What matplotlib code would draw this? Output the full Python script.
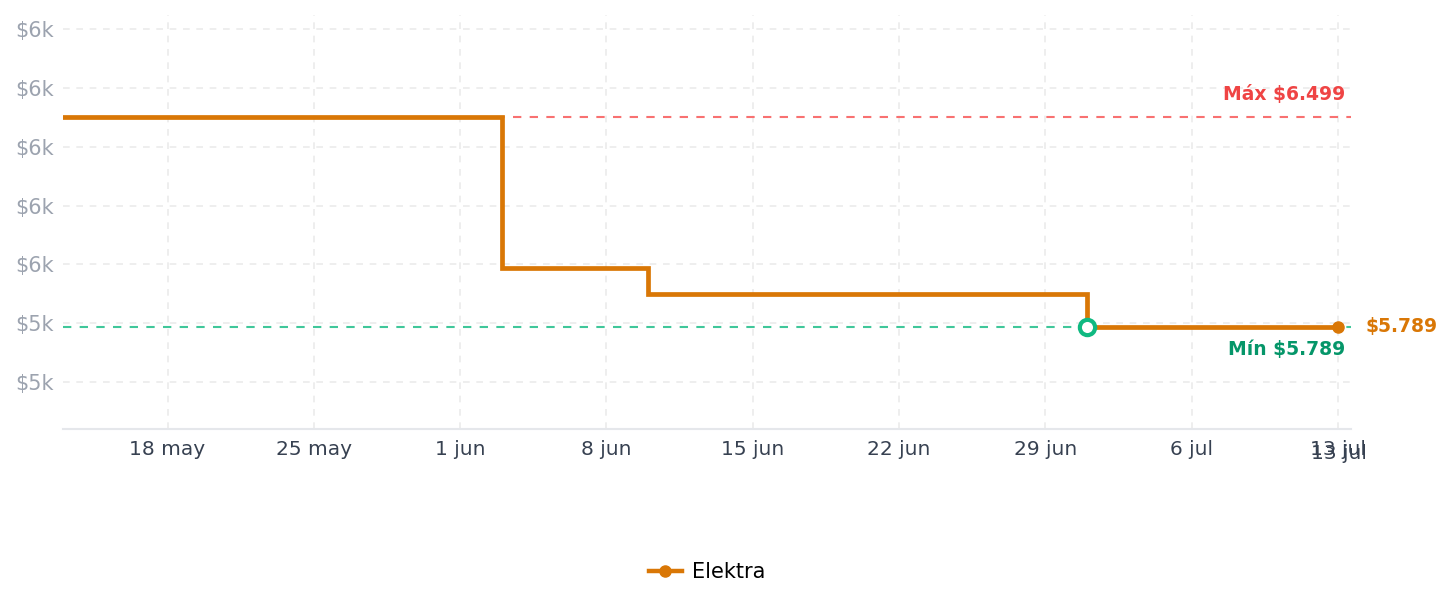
import numpy as np
import matplotlib.pyplot as plt
import matplotlib.dates as mdates
from matplotlib.ticker import FuncFormatter, FixedLocator
from matplotlib.lines import Line2D
from datetime import datetime, timedelta

# price history (step changes)
dates = [datetime(2025, 5, 13), datetime(2025, 6, 3), datetime(2025, 6, 10),
         datetime(2025, 7, 1), datetime(2025, 7, 13)]
prices = [6499, 5989, 5899, 5789, 5789]
store = 'Elektra'
max_price = 6499
min_price = 5789
min_date = datetime(2025, 7, 1)
y_ticks = [5600, 5800, 6000, 6200, 6400, 6600, 6800]
x_ticks = [datetime(2025, 5, 18) + timedelta(days=7 * i) for i in range(9)]
x_labels = ['18 may', '25 may', '1 jun', '8 jun', '15 jun', '22 jun', '29 jun', '6 jul', '13 jul']

orange = '#d97706'
green = '#10b981'

fig = plt.figure(figsize=(14.52, 6.07), dpi=100)
ax = fig.add_axes([63 / 1452, 1 - 429 / 607, (1351 - 63) / 1452, (429 - 15) / 607])

ax.axhline(max_price, color='#f87171', linestyle=(0, (4, 4)), linewidth=1.5, zorder=2)
ax.axhline(min_price, color=green, alpha=0.8, linestyle=(0, (4, 4)), linewidth=1.5, zorder=2)

ax.step(dates, prices, where='post', color=orange, linewidth=3.4, zorder=3,
        solid_joinstyle='miter')
ax.plot(dates[-1], prices[-1], 'o', color=orange, markersize=8, zorder=4)
ax.plot(min_date, min_price, 'o', markerfacecolor='white', markeredgecolor=green,
        markeredgewidth=3, markersize=11, zorder=5)

ax.annotate('Máx $6.499', xy=(0.9955, max_price), xycoords=('axes fraction', 'data'),
            xytext=(0, 10), textcoords='offset points', ha='right', va='bottom',
            color='#ef4444', fontsize=13.5, fontweight='bold')
ax.annotate('Mín $5.789', xy=(0.9955, min_price), xycoords=('axes fraction', 'data'),
            xytext=(0, -10), textcoords='offset points', ha='right', va='top',
            color='#059669', fontsize=13.5, fontweight='bold')
ax.annotate('$5.789', xy=(dates[-1], prices[-1]), xytext=(20, 0), textcoords='offset points',
            ha='left', va='center', color=orange, fontsize=13.5, fontweight='bold',
            annotation_clip=False)

ax.set_ylim(5441, 6847)
ax.set_xlim(datetime(2025, 5, 13), datetime(2025, 7, 13) + timedelta(days=0.62))
ax.yaxis.set_major_locator(FixedLocator(y_ticks))
ax.yaxis.set_major_formatter(FuncFormatter(lambda v, p: f'${int(v // 1000)}k'))
ax.set_xticks(x_ticks)
ax.set_xticklabels(x_labels)

# duplicated last label, slightly shifted
ax.annotate('13 jul', xy=(x_ticks[-1], 0), xycoords=('data', 'axes fraction'),
            xytext=(0.5, -10.5), textcoords='offset points', ha='center', va='top',
            color='#374151', fontsize=14.5, annotation_clip=False)

ax.tick_params(axis='y', length=0, pad=6.5, labelsize=15, labelcolor='#9ca3af')
ax.tick_params(axis='x', length=0, pad=8, labelsize=14.5, labelcolor='#374151')
ax.grid(True, color='#ebebeb', linestyle=(0, (4, 4)), linewidth=1.2)
ax.set_axisbelow(True)
for s in ['left', 'right', 'top']:
    ax.spines[s].set_visible(False)
ax.spines['bottom'].set_color('#e5e7eb')
ax.spines['bottom'].set_linewidth(1.5)

handle = Line2D([], [], color=orange, linewidth=3.2, marker='o', markersize=8)
fig.legend([handle], [store], loc='center', bbox_to_anchor=(0.487, 1 - 572 / 607),
           frameon=False, fontsize=15, handlelength=1.6, handletextpad=0.5)

plt.savefig('out.png', dpi=100)
